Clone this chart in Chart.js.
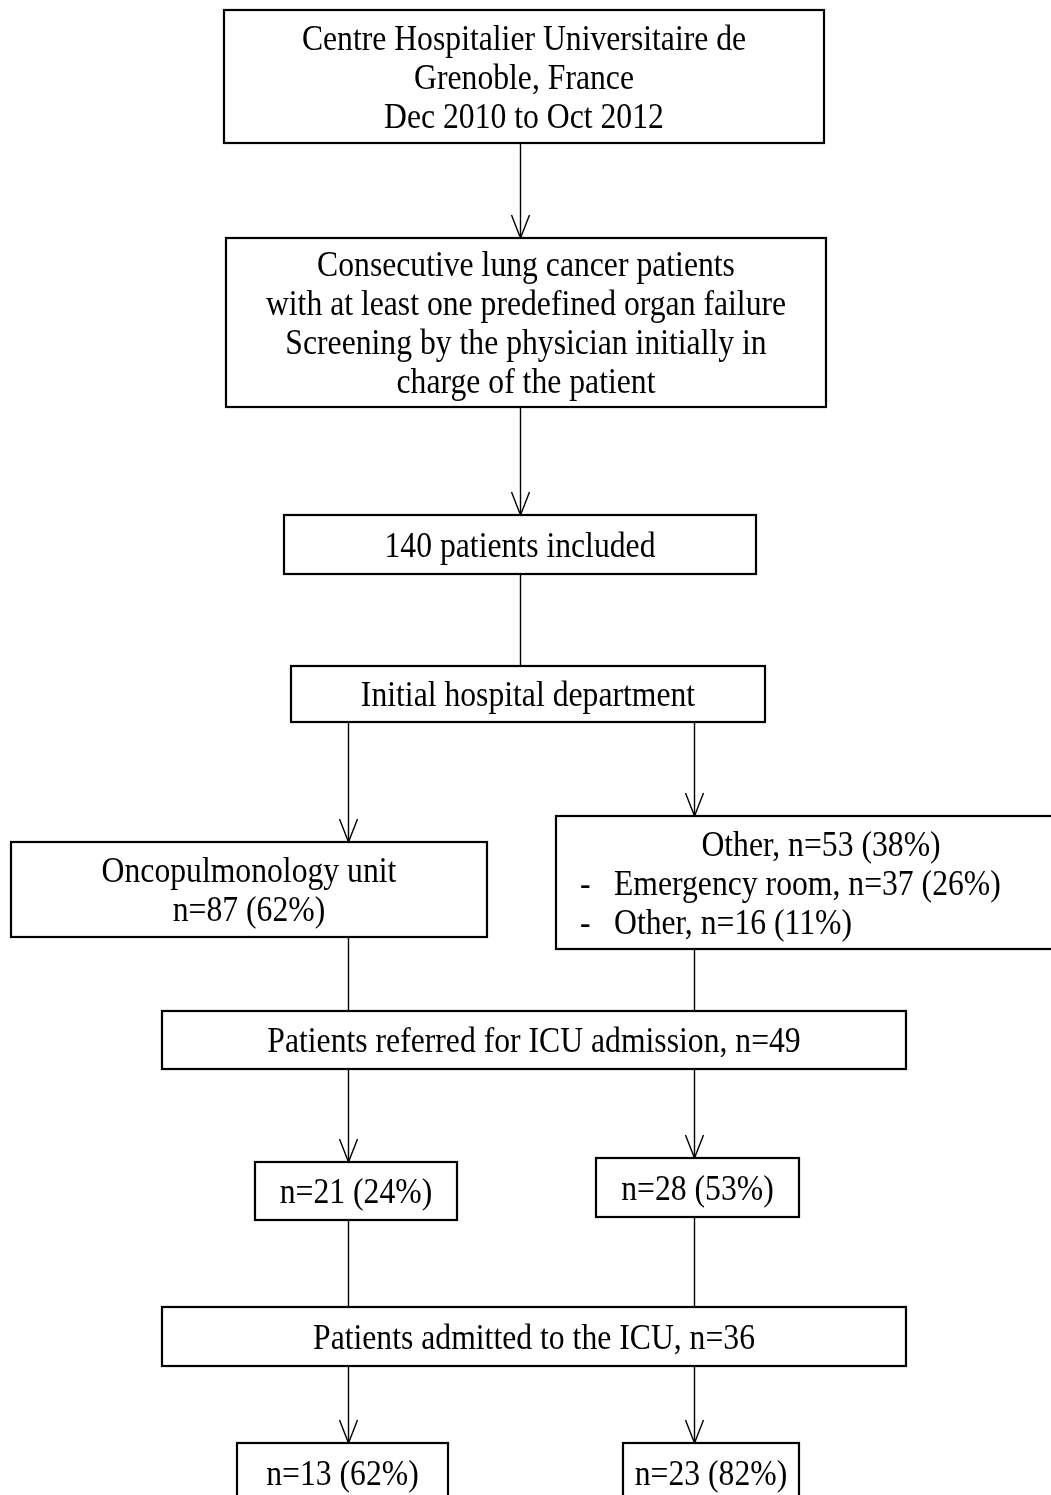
<!DOCTYPE html>
<html>
<head>
<meta charset="utf-8">
<script src="https://cdn.jsdelivr.net/npm/chart.js@4"></script>
<style>
  html, body { margin: 0; padding: 0; background: #fff; }
  #wrap { width: 1051px; height: 1495px; position: relative; }
</style>
</head>
<body>
<div id="wrap"><canvas id="flow"></canvas></div>
<script>
// box texts, top to bottom
const boxTexts = [
  ['Centre Hospitalier Universitaire de', 'Grenoble, France', 'Dec 2010 to Oct 2012'],
  ['Consecutive lung cancer patients', 'with at least one predefined organ failure', 'Screening by the physician initially in', 'charge of the patient'],
  ['140 patients included'],
  ['Initial hospital department'],
  ['Oncopulmonology unit', 'n=87 (62%)'],
  ['Other, n=53 (38%)', 'Emergency room, n=37 (26%)', 'Other, n=16 (11%)'],
  ['Patients referred for ICU admission, n=49'],
  ['n=21 (24%)'],
  ['n=28 (53%)'],
  ['Patients admitted to the ICU, n=36'],
  ['n=13 (62%)'],
  ['n=23 (82%)']
];
// lines of box 6 that are drawn as "-" bullets
const bulletLines = [1, 2];

// geometry in page units (x1, x2, y1, y2)
const boxLayout = [
  [224, 824, 10, 143],
  [226, 826, 238, 407],
  [284, 756, 515, 574],
  [291, 765, 666, 722],
  [11, 487, 842, 937],
  [556, 1060, 816, 949],
  [162, 906, 1011, 1069],
  [255, 457, 1162, 1220],
  [596, 799, 1158, 1217],
  [162, 906, 1307, 1366],
  [237, 448, 1443, 1503],
  [623, 799, 1443, 1503]
];
// connectors: x, yFrom, yTo, arrow head?
const links = [
  [520, 143, 238, true],
  [520, 407, 515, true],
  [520, 574, 666, false],
  [348, 722, 842, true],
  [694, 722, 816, true],
  [348, 937, 1011, false],
  [694, 949, 1011, false],
  [348, 1069, 1162, true],
  [694, 1069, 1158, true],
  [348, 1220, 1307, false],
  [694, 1217, 1307, false],
  [348, 1366, 1443, true],
  [694, 1366, 1443, true]
];

const FONT = 'Liberation Serif, Times New Roman, serif';
const fontPx = 36;
const squeeze = 0.88;
const lineGap = 39;

const flowPlugin = {
  id: 'flow',
  afterDraw(chart) {
    const { ctx, scales: { x, y } } = chart;
    const px = v => x.getPixelForValue(v);
    const py = v => y.getPixelForValue(v);
    ctx.save();
    ctx.strokeStyle = '#000';
    ctx.fillStyle = '#000';

    // connectors first
    ctx.lineWidth = 1.4;
    links.forEach(([lx, y0, y1, head]) => {
      const X = Math.round(px(lx)) + 0.5;
      ctx.beginPath();
      ctx.moveTo(X, py(y0));
      ctx.lineTo(X, py(y1));
      ctx.stroke();
      if (head) {
        ctx.beginPath();
        ctx.moveTo(X - 9, py(y1) - 23);
        ctx.lineTo(X, py(y1));
        ctx.lineTo(X + 9, py(y1) - 23);
        ctx.stroke();
      }
    });

    // boxes
    ctx.lineWidth = 2.2;
    boxLayout.forEach(([x1, x2, y1, y2], i) => {
      ctx.fillStyle = '#fff';
      ctx.fillRect(px(x1), py(y1), px(x2) - px(x1), py(y2) - py(y1));
      ctx.strokeRect(px(x1), py(y1), px(x2) - px(x1), py(y2) - py(y1));
      ctx.fillStyle = '#000';
      ctx.font = fontPx + 'px ' + FONT;
      ctx.textBaseline = 'middle';
      const lines = boxTexts[i];
      const cy = (py(y1) + py(y2)) / 2;
      const top = cy - (lines.length - 1) * lineGap / 2;
      lines.forEach((t, k) => {
        const ty = top + k * lineGap + 3;
        ctx.save();
        if (i === 5 && bulletLines.includes(k)) {
          ctx.translate(px(580), ty);
          ctx.scale(squeeze, 1);
          ctx.textAlign = 'left';
          ctx.fillText('-', 0, 0);
          ctx.restore();
          ctx.save();
          ctx.translate(px(614), ty);
          ctx.scale(squeeze, 1);
          ctx.textAlign = 'left';
          ctx.fillText(t, 0, 0);
        } else {
          const cx = i === 5 ? px(821) : (px(x1) + px(x2)) / 2;
          ctx.translate(cx, ty);
          ctx.scale(squeeze, 1);
          ctx.textAlign = 'center';
          ctx.fillText(t, 0, 0);
        }
        ctx.restore();
      });
    });
    ctx.restore();
  }
};

new Chart(document.getElementById('flow'), {
  type: 'scatter',
  data: {
    datasets: [{
      data: boxLayout.map(b => ({ x: (b[0] + b[1]) / 2, y: (b[2] + b[3]) / 2 })),
      pointRadius: 0
    }]
  },
  options: {
    responsive: true,
    maintainAspectRatio: false,
    animation: false,
    layout: { padding: 0 },
    plugins: { legend: { display: false }, tooltip: { enabled: false } },
    scales: {
      x: { type: 'linear', min: 0, max: 1051, display: false },
      y: { type: 'linear', min: 0, max: 1495, reverse: true, display: false }
    }
  },
  plugins: [flowPlugin]
});
</script>
</body>
</html>
